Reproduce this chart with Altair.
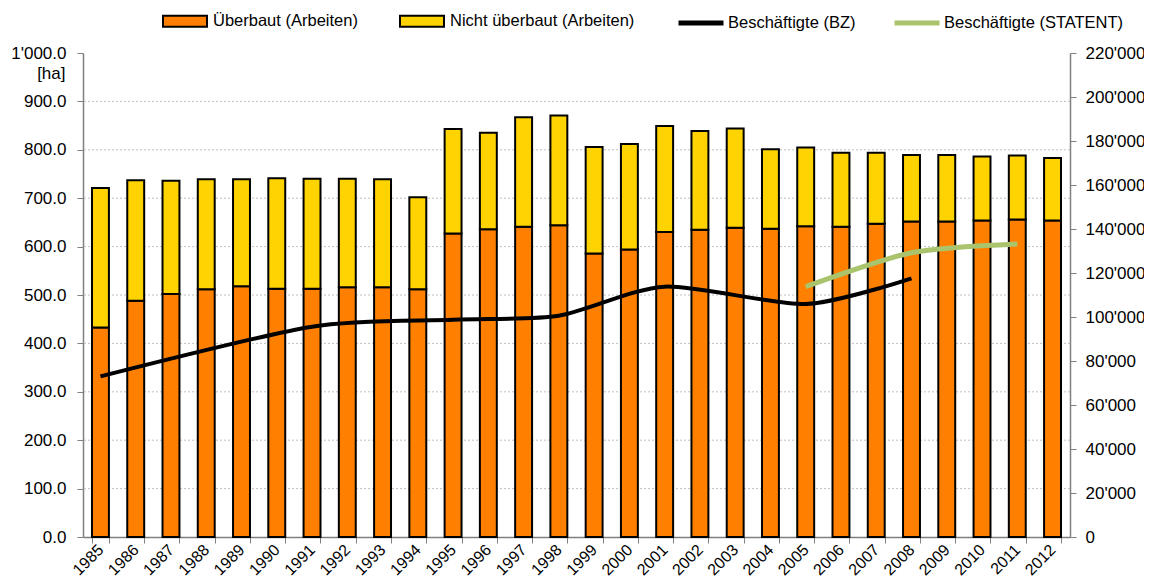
import altair as alt
import pandas as pd

# ---- data ----
years = list(range(1985, 2013))
ueberbaut = [433, 488, 502, 512, 518, 513, 513, 516, 516, 512,
             627, 636, 641, 644, 586, 594, 630, 635, 639, 637,
             642, 641, 647, 652, 652, 654, 656, 654]
nicht_ueberbaut = [288, 249, 234, 227, 221, 228, 227, 224, 223, 190,
                   216, 199, 226, 227, 220, 218, 219, 204, 205, 164,
                   163, 153, 147, 137, 137, 132, 132, 129]
bz_years = [1985, 1991, 1995, 1998, 2001, 2005, 2008]
bz_values = [73000, 95600, 98700, 100600, 113800, 105900, 117600]
statent_years = [2005, 2008, 2011]
statent_values = [113800, 129200, 133200]

bar_cats = ["Überbaut (Arbeiten)", "Nicht überbaut (Arbeiten)"]
line_cats = ["Beschäftigte (BZ)", "Beschäftigte (STATENT)"]
left_ticks = [0, 100, 200, 300, 400, 500, 600, 700, 800, 900, 1000]
grid_values = [100, 200, 300, 400, 500, 600, 700, 800, 900]
right_ticks = [0, 20000, 40000, 60000, 80000, 100000, 120000, 140000,
               160000, 180000, 200000, 220000]

FONT = "Liberation Sans"

rows = []
for y, a, b in zip(years, ueberbaut, nicht_ueberbaut):
    rows.append({"year": y, "cat": bar_cats[0], "value": a, "ord": 0})
    rows.append({"year": y, "cat": bar_cats[1], "value": b, "ord": 1})
bars_df = pd.DataFrame(rows)
grid_df = pd.DataFrame({"value": grid_values})

bz_df = pd.DataFrame({"year": bz_years, "value": bz_values, "series": line_cats[0]})
st_df = pd.DataFrame({"year": statent_years, "value": statent_values, "series": line_cats[1]})

x_enc = alt.X(
    "year:O",
    scale=alt.Scale(domain=years, paddingInner=0.52, paddingOuter=0.255),
    axis=alt.Axis(
        title=None, labelAngle=-45, labelAlign="right", labelBaseline="middle",
        labelFont=FONT, labelFontSize=16, labelColor="black", labelPadding=4,
        tickBand="extent", tickSize=6, tickColor="#808080",
        domainColor="#808080", domainWidth=1.5, grid=False,
    ),
)

left_axis = alt.Axis(
    values=left_ticks, orient="left",
    labelExpr="replace(format(datum.value, ',.1f'), ',', \"'\")",
    labelFont=FONT, labelFontSize=17, labelColor="black", labelPadding=11,
    tickSize=6, tickColor="#808080", domainColor="#808080", domainWidth=1.5,
    grid=False,
    title="[ha]", titleAngle=0, titleAlign="right", titleBaseline="middle",
    titleX=-18, titleY=20, titleFont=FONT, titleFontSize=17,
    titleFontWeight="normal", titleColor="black",
)
left_scale = alt.Scale(domain=[0, 1000], nice=False)

grid = alt.Chart(grid_df).mark_rule(
    color="#C0C0C0", strokeDash=[2, 2], strokeWidth=1
).encode(
    y=alt.Y("value:Q", scale=left_scale, axis=left_axis),
)

bars = alt.Chart(bars_df).mark_bar(stroke="black", strokeWidth=2).encode(
    x=x_enc,
    y=alt.Y("value:Q", stack="zero", scale=left_scale, axis=left_axis),
    fill=alt.Fill(
        "cat:N",
        scale=alt.Scale(domain=bar_cats, range=["#FF8000", "#FFD300"]),
        legend=alt.Legend(
            orient="none", legendX=79, legendY=-55, direction="horizontal",
            title=None, padding=0,
            symbolType="M-1,-0.25H1V0.25H-1Z", symbolSize=1936,
            symbolStrokeColor="black", symbolStrokeWidth=2, symbolOpacity=1,
            labelFont=FONT, labelFontSize=16.5, labelColor="black",
            labelOffset=5, columnPadding=38, labelLimit=400,
        ),
    ),
    order=alt.Order("ord:Q", sort="ascending"),
)

right_axis = alt.Axis(
    values=right_ticks, orient="right",
    labelExpr="replace(format(datum.value, ','), ',', \"'\")",
    labelFont=FONT, labelFontSize=17, labelColor="black", labelPadding=9,
    tickSize=6, tickColor="#808080", domainColor="#808080", domainWidth=1.5,
    grid=False, title=None,
)

stroke_enc = alt.Stroke(
    "series:N",
    scale=alt.Scale(domain=line_cats, range=["black", "#A9C46C"]),
    legend=alt.Legend(
        orient="none", legendX=593, legendY=-55, direction="horizontal",
        title=None, padding=0,
        symbolType="stroke", symbolSize=2025, symbolStrokeWidth=5,
        labelFont=FONT, labelFontSize=16.5, labelColor="black",
        labelOffset=2, columnPadding=28, labelLimit=400,
    ),
)

y_right = alt.Y("value:Q", scale=alt.Scale(domain=[0, 220000], nice=False), axis=right_axis)

line_bz = alt.Chart(bz_df).mark_line(interpolate="cardinal", tension=0.25, strokeWidth=4).encode(
    x=x_enc, y=y_right, stroke=stroke_enc,
)
line_st = alt.Chart(st_df).mark_line(interpolate="cardinal", tension=0.25, strokeWidth=5).encode(
    x=x_enc, y=y_right, stroke=stroke_enc,
)

left_part = alt.layer(grid, bars)
lines = alt.layer(line_bz, line_st)

chart = alt.layer(left_part, lines).resolve_scale(y="independent").properties(
    width=987, height=484,
    autosize=alt.AutoSizeParams(type="none"),
    padding={"left": 75, "top": 45, "right": 74, "bottom": 41},
).configure_view(stroke=None)

chart.save("out.html", embed_options={"renderer": "svg", "actions": False})
